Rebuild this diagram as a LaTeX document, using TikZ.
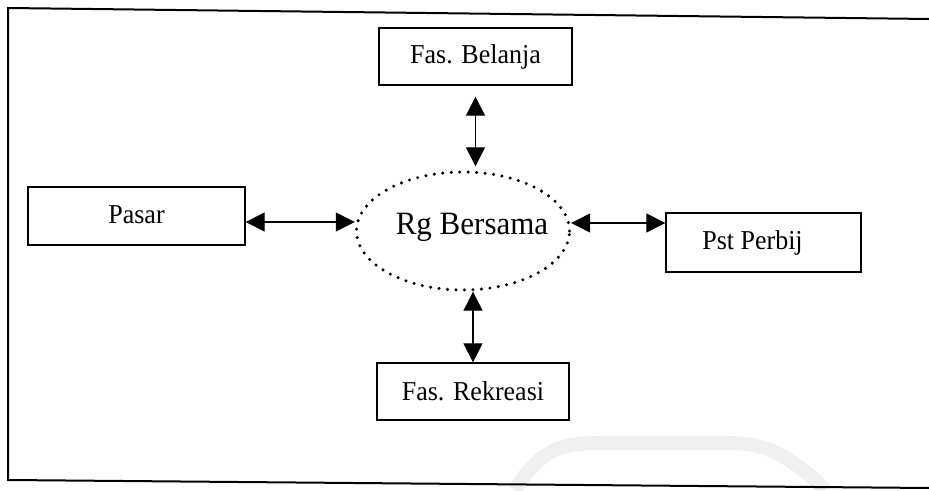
\documentclass[tikz,border=0pt]{standalone}
\usepackage{fontspec}
\setmainfont{Liberation Serif}
\usetikzlibrary{arrows.meta,shapes.geometric}
\begin{document}
\begin{tikzpicture}[x=1pt,y=1pt,
  box/.style={draw,line width=1.3pt,inner sep=0pt,font=\fontsize{26}{30}\selectfont},
  arr/.style={line width=1.2pt,{Triangle[length=19pt,width=19pt]}-{Triangle[length=19pt,width=19pt]}},
  frame/.style={line width=2pt}]
\useasboundingbox (0,0) rectangle (929,490);
% faint watermark band
\draw[gray!12,line width=14pt] (515,0) .. controls (540,40) and (560,47) .. (600,47) -- (730,47) .. controls (770,47) and (795,30) .. (825,0);
% outer frame (open on the right)
\coordinate (ftl) at (8,482);
\coordinate (ftr) at (929,471);
\coordinate (fbl) at (8,10);
\coordinate (fbr) at (929,2);
\draw[frame] (ftr) -- (ftl) -- (fbl) -- (fbr);
% nodes
\node[box,minimum width=193pt,minimum height=57pt] (bel) at (475.5,433.5) {\scalebox{1}[1.05]{Fas. Belanja}};
\node[box,minimum width=217pt,minimum height=58pt] (pas) at (136.5,274) {\raisebox{3pt}{\scalebox{1}[1.05]{Pasar}}};
\node[box,minimum width=195pt,minimum height=59pt] (pst) at (763.5,247.5) {\hspace*{-22pt}\scalebox{1}[1.05]{Pst Perbij}};
\node[box,minimum width=192pt,minimum height=57pt] (rek) at (473,98.5) {\scalebox{1}[1.05]{Fas. Rekreasi}};
\node[draw,ellipse,line width=3.4pt,dash pattern=on 0pt off 8.5pt,line cap=round,
      minimum width=213pt,minimum height=118pt,inner sep=0pt] (rg) at (463,259) {};
\node[font=\fontsize{31}{36}\selectfont] (rgt) at (472,263) {\scalebox{1}[1.05]{Rg Bersama}};
% connectors
\coordinate (pasR) at ([yshift=-6pt]pas.east);
\draw[arr] (pasR) -- (rg.west |- pasR);
\coordinate (pstL) at ([yshift=19.5pt]pst.west);
\draw[arr] (rg.east |- pstL) -- (pstL);
\draw[arr,shorten <=11pt,shorten >=4pt] (bel.south) -- (bel.south |- rg.north);
\draw[arr] (rek.north |- rg.south) -- (rek.north);
\end{tikzpicture}
\end{document}
